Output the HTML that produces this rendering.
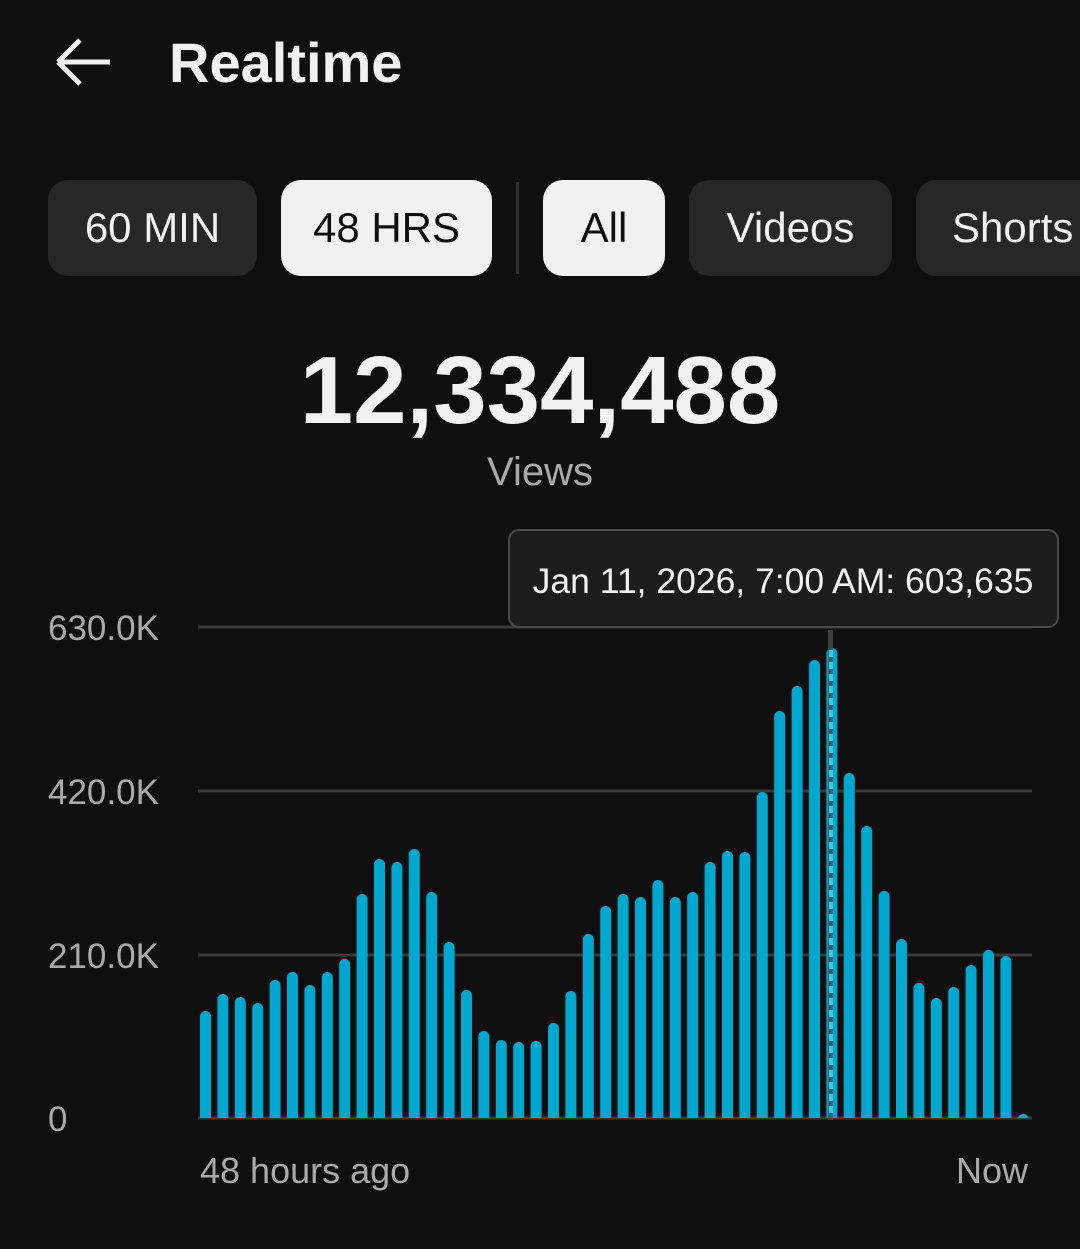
<!DOCTYPE html>
<html><head><meta charset="utf-8"><style>
body{margin:0;background:#0f0f0f;width:1080px;height:1249px;overflow:hidden;font-family:"Liberation Sans",sans-serif;color:#f1f1f1;position:relative}
.t{position:absolute;white-space:nowrap}
.chip{position:absolute;top:180px;height:96px;border-radius:20px;background:#272727;color:#f1f1f1;font-size:42px;display:flex;align-items:center;justify-content:center}
.sel{background:#f1f1f1;color:#0f0f0f}
</style></head><body>
<svg class="t" style="left:52px;top:36px" width="62" height="52"><path d="M6 26H58M6 26L28 4M6 26L28 48" stroke="#f1f1f1" stroke-width="5" fill="none"/></svg>
<div class="t" style="left:169px;top:30px;font-size:56px;font-weight:bold">Realtime</div>
<div class="chip" style="left:48px;width:209px">60 MIN</div>
<div class="chip sel" style="left:281px;width:211px">48 HRS</div>
<div style="position:absolute;left:516px;top:182px;width:3px;height:92px;background:#303030"></div>
<div class="chip sel" style="left:543px;width:122px">All</div>
<div class="chip" style="left:689px;width:203px">Videos</div>
<div class="chip" style="left:916px;width:220px;justify-content:flex-start;padding-left:36px;box-sizing:border-box">Shorts</div>
<div class="t" style="left:0;width:1080px;text-align:center;top:336px;font-size:96px;font-weight:bold">12,334,488</div>
<div class="t" style="left:0;width:1080px;text-align:center;top:450px;font-size:40px;color:#aaa">Views</div>
<div class="t" style="left:48px;top:609px;font-size:35px;color:#aaa">630.0K</div>
<div class="t" style="left:48px;top:773px;font-size:35px;color:#aaa">420.0K</div>
<div class="t" style="left:48px;top:937px;font-size:35px;color:#aaa">210.0K</div>
<div class="t" style="left:48px;top:1100px;font-size:35px;color:#aaa">0</div>
<div class="t" style="left:200px;top:1150px;font-size:36px;color:#aaa">48 hours ago</div>
<div class="t" style="left:956px;top:1150px;font-size:36px;color:#aaa">Now</div>
<svg class="t" style="left:0;top:0" width="1080" height="1249">
<defs><clipPath id="cp"><rect x="0" y="0" width="1080" height="1118"/></clipPath></defs>
<g stroke="#3a3a3a" stroke-width="3"><line x1="198" x2="1032" y1="627" y2="627"/><line x1="198" x2="1032" y1="791" y2="791"/><line x1="198" x2="1032" y1="955" y2="955"/><line x1="198" x2="1032" y1="1118" y2="1118"/></g>
<g id="bars" clip-path="url(#cp)" fill="#00a8d0"></g>
<rect x="828" y="630" width="5" height="490" fill="#4a4a4a" opacity="0.8"/>
<line x1="831" y1="650" x2="831" y2="1118" stroke="#3ec8e8" stroke-width="4" stroke-dasharray="7 5"/>
<rect x="509" y="530" width="549" height="97" rx="10" fill="#1c1c1c" stroke="#4a4a4a" stroke-width="2"/>
<text x="783" y="593" text-anchor="middle" font-size="35.5" fill="#f1f1f1" font-family="Liberation Sans, sans-serif">Jan 11, 2026, 7:00 AM: 603,635</text>
</svg>
<script>
var tops=[1011,994,997,1003,980,972,985,972,959,894,859,862,849,892,942,990,1031,1040,1042,1041,1023,991,934,906,894,897,880,897,892,862,851,852,792,711,686,660,648,773,826,891,939,983,998,987,965,950,956,1114];
var g=document.getElementById('bars'),s='';
tops.forEach(function(t,i){var x=200+i*17.4;s+='<rect x="'+x.toFixed(1)+'" y="'+t+'" width="11" height="'+(1130-t)+'" rx="5.5"/>';});
g.innerHTML=s;
</script>
</body></html>
